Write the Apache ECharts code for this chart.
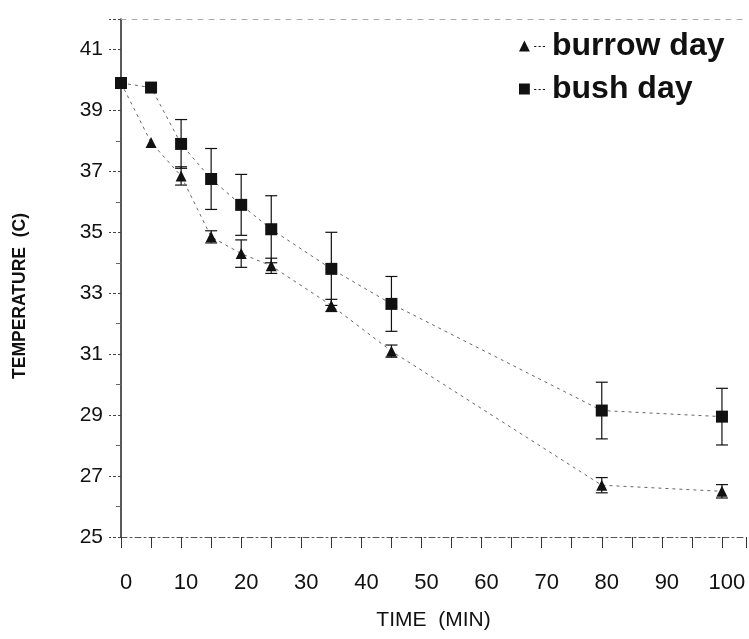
<!DOCTYPE html>
<html><head><meta charset="utf-8">
<script src="https://cdn.jsdelivr.net/npm/echarts@6/dist/echarts.min.js"></script>
<style>html,body{margin:0;padding:0;background:#fff}#c{width:749px;height:639px}</style>
</head><body><div id="c"></div>
<script>
const time = [0, 5, 10, 15, 20, 25, 35, 45, 80, 100];
const burrow = [39.9, 37.95, 36.85, 34.85, 34.3, 33.9, 32.6, 31.1, 26.7, 26.5];
const burrowErr = [0, 0, 0.3, 0.2, 0.45, 0.25, 0.2, 0.2, 0.25, 0.22];
const bush = [39.9, 39.75, 37.9, 36.75, 35.9, 35.1, 33.8, 32.65, 29.15, 28.95];
const bushErr = [0, 0, 0.8, 1.0, 1.0, 1.1, 1.2, 0.9, 0.93, 0.93];
const xTickLabels = [0, 10, 20, 30, 40, 50, 60, 70, 80, 90, 100];
const yTickLabels = [25, 27, 29, 31, 33, 35, 37, 39, 41];
const seriesNames = ['burrow day', 'bush day'];

const pts = (ys) => time.map((t, i) => [t, ys[i]]);
const errs = (ys, es) => time.map((t, i) => [t, ys[i] - es[i], ys[i] + es[i]]).filter((d, i) => es[i] > 0);

function errRender(params, api) {
  const x = api.value(0);
  const lo = api.coord([x, api.value(1)]);
  const hi = api.coord([x, api.value(2)]);
  const w = 6;
  const st = { stroke: '#111', lineWidth: 1.2 };
  return { type: 'group', children: [
    { type: 'line', shape: { x1: hi[0], y1: hi[1], x2: lo[0], y2: lo[1] }, style: st },
    { type: 'line', shape: { x1: hi[0] - w, y1: hi[1], x2: hi[0] + w, y2: hi[1] }, style: st },
    { type: 'line', shape: { x1: lo[0] - w, y1: lo[1], x2: lo[0] + w, y2: lo[1] }, style: st }
  ]};
}

const narrow = "'Liberation Sans Narrow', 'Liberation Sans', Arial, sans-serif";
const chart = echarts.init(document.getElementById('c'), null, { renderer: 'canvas' });
chart.setOption({
  animation: false,
  backgroundColor: '#fff',
  grid: { left: 121, top: 19, width: 627, height: 518 },
  legend: {
    left: 514, top: 25, orient: 'vertical', itemGap: 11,
    itemWidth: 26, itemHeight: 11,
    data: [
      { name: seriesNames[0], icon: 'path://M0,10 L5,0 L10,10 Z M14,5 h2 v1 h-2 Z M18,5 h2 v1 h-2 Z M22,5 h2 v1 h-2 Z' },
      { name: seriesNames[1], icon: 'path://M0,0 H10 V10 H0 Z M14,5 h2 v1 h-2 Z M18,5 h2 v1 h-2 Z M22,5 h2 v1 h-2 Z' }
    ],
    textStyle: { fontFamily: "'Liberation Sans', Arial, sans-serif", fontWeight: 'bold', fontSize: 32, color: '#111', padding: [0, 0, 0, 2] }
  },
  xAxis: [{
    type: 'value', min: 0, max: 104, interval: 5,
    name: 'TIME  (MIN)', nameLocation: 'middle', nameGap: 73,
    nameTextStyle: { fontFamily: narrow, fontSize: 21, color: '#111' },
    axisLine: { show: true, onZero: false, lineStyle: { color: '#555', width: 1, type: [6, 3, 2, 3] } },
    axisTick: { show: true, length: 11, lineStyle: { color: '#333', width: 1 } },
    axisLabel: { margin: 35, fontFamily: narrow, fontSize: 22, color: '#111', padding: [0, 0, 0, 10],
      formatter: v => xTickLabels.includes(v) ? String(v) : '' },
    splitLine: { show: false }
  }, {
    type: 'value', min: 0, max: 104, position: 'top',
    axisLine: { show: true, lineStyle: { color: '#aaa', width: 1, type: [5, 6] } },
    axisTick: { show: false }, axisLabel: { show: false }, splitLine: { show: false }
  }],
  yAxis: {
    type: 'value', min: 25, max: 42, interval: 2,
    name: 'TEMPERATURE  (C)', nameLocation: 'middle', nameGap: 92,
    nameTextStyle: { fontFamily: "'Liberation Sans', Arial, sans-serif", fontWeight: 'bold', fontSize: 17.5, color: '#111', padding: [0, 36, 0, 0] },
    axisLine: { show: true, onZero: false, lineStyle: { color: '#222', width: 1.5 } },
    axisTick: { show: true, length: 12, lineStyle: { color: '#444', width: 1, type: [3, 2] } },
    minorTick: { show: true, splitNumber: 2, length: 5, lineStyle: { color: '#666' } },
    axisLabel: { margin: 18, fontFamily: "'Liberation Sans', Arial, sans-serif", fontSize: 21, color: '#111',
      formatter: v => yTickLabels.includes(v) ? String(v) : '' },
    splitLine: { show: false }
  },
  series: [
    { name: seriesNames[0], type: 'line', data: pts(burrow), symbol: 'triangle', symbolSize: 11,
      itemStyle: { color: '#111' }, lineStyle: { color: '#666', width: 1, type: [3, 4] }, z: 3 },
    { name: seriesNames[1], type: 'line', data: pts(bush), symbol: 'rect', symbolSize: 12,
      itemStyle: { color: '#111' }, lineStyle: { color: '#666', width: 1, type: [3, 4] }, z: 4 },
    { type: 'custom', data: errs(burrow, burrowErr), renderItem: errRender, encode: { x: 0, y: [1, 2] }, z: 2, silent: true },
    { type: 'custom', data: errs(bush, bushErr), renderItem: errRender, encode: { x: 0, y: [1, 2] }, z: 2, silent: true }
  ]
});
</script></body></html>
